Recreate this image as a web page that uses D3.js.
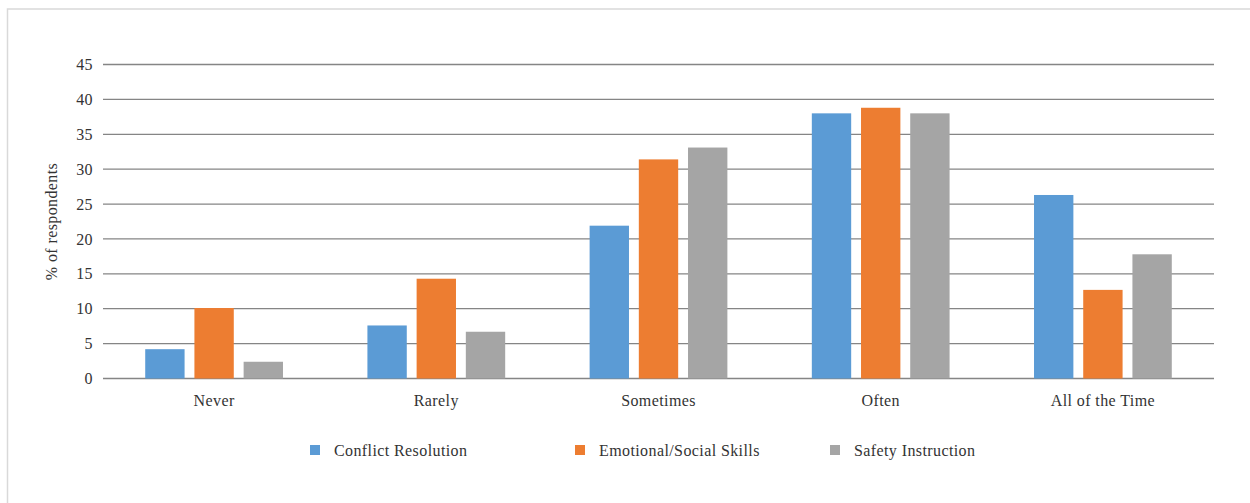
<!doctype html>
<html>
<head>
<meta charset="utf-8">
<title>Frequency by category</title>
<script src="https://d3js.org/d3.v7.min.js"></script>
<style>
  body { margin: 0; background: #fff; }
  svg { display: block; font-family: "Liberation Serif", "DejaVu Serif", serif; }
  svg text { font-family: "Liberation Serif", "DejaVu Serif", serif; letter-spacing: 0.4px; }
</style>
</head>
<body>
<svg id="chart" width="1250" height="503"></svg>
<script>
// data
var categories = ["Never", "Rarely", "Sometimes", "Often", "All of the Time"];
var seriesNames = ["Conflict Resolution", "Emotional/Social Skills", "Safety Instruction"];
var conflict = [4.2, 7.6, 21.9, 38.0, 26.3];
var emotional = [10.1, 14.3, 31.4, 38.8, 12.7];
var safety = [2.4, 6.7, 33.1, 38.0, 17.8];
var yTicks = [0, 5, 10, 15, 20, 25, 30, 35, 40, 45];
var colors = ["#5b9bd5", "#ed7d31", "#a5a5a5"];

var series = [conflict, emotional, safety];

var svg = d3.select("#chart");

// outer frame (runs off right & bottom edge like the original)
svg.append("rect")
  .attr("x", 7.5).attr("y", 9)
  .attr("width", 1260).attr("height", 520)
  .attr("fill", "none")
  .attr("stroke", "#d9d9d9")
  .attr("stroke-width", 1.5);

var plotL = 103, plotR = 1214, plotT = 64.5, plotB = 378.5;

var x = d3.scaleBand()
  .domain(categories)
  .range([plotL, plotR])
  .paddingInner(0.38)
  .paddingOuter(0.19);

var xs = d3.scaleBand()
  .domain(d3.range(series.length))
  .range([0, x.bandwidth()])
  .paddingInner(0.2);

var y = d3.scaleLinear().domain([0, 45]).range([plotB, plotT]);

// gridlines
svg.append("g")
  .selectAll("line")
  .data(yTicks)
  .enter()
  .append("line")
  .attr("x1", plotL).attr("x2", plotR)
  .attr("y1", function(d) { return y(d); })
  .attr("y2", function(d) { return y(d); })
  .attr("stroke", "#858585")
  .attr("stroke-width", 1.3);

// y axis labels
var yAxis = d3.axisLeft(y).tickValues(yTicks).tickSize(0).tickPadding(10);
var gy = svg.append("g").attr("transform", "translate(" + plotL + ",0)").call(yAxis);
gy.attr("font-family", null).attr("font-size", null);
gy.select(".domain").remove();
gy.selectAll("text").attr("font-size", 16).attr("fill", "#333");

// bars
series.forEach(function(vals, si) {
  svg.append("g")
    .selectAll("rect")
    .data(vals)
    .enter()
    .append("rect")
    .attr("x", function(d, i) { return x(categories[i]) + xs(si); })
    .attr("y", function(d) { return y(d); })
    .attr("width", xs.bandwidth())
    .attr("height", function(d) { return y(0) - y(d); })
    .attr("fill", colors[si]);
});

// x axis labels
var xAxis = d3.axisBottom(x).tickSize(0).tickPadding(16);
var gx = svg.append("g").attr("transform", "translate(0," + plotB + ")").call(xAxis);
gx.attr("font-family", null).attr("font-size", null);
gx.select(".domain").remove();
gx.selectAll("text").attr("font-size", 16).attr("fill", "#333");

// axis title
svg.append("text")
  .attr("transform", "translate(57," + ((plotT + plotB) / 2) + ") rotate(-90)")
  .attr("text-anchor", "middle")
  .attr("font-size", 16)
  .attr("fill", "#333")
  .text("% of respondents");

// legend
var legendX = [310, 575, 830];
var legend = svg.append("g")
  .selectAll("g")
  .data(seriesNames)
  .enter()
  .append("g")
  .attr("transform", function(d, i) { return "translate(" + legendX[i] + ",445)"; });

legend.append("rect")
  .attr("width", 10).attr("height", 10)
  .attr("fill", function(d, i) { return colors[i]; });

legend.append("text")
  .attr("x", 24).attr("y", 11)
  .attr("font-size", 16)
  .attr("fill", "#333")
  .text(function(d) { return d; });
</script>
</body>
</html>
